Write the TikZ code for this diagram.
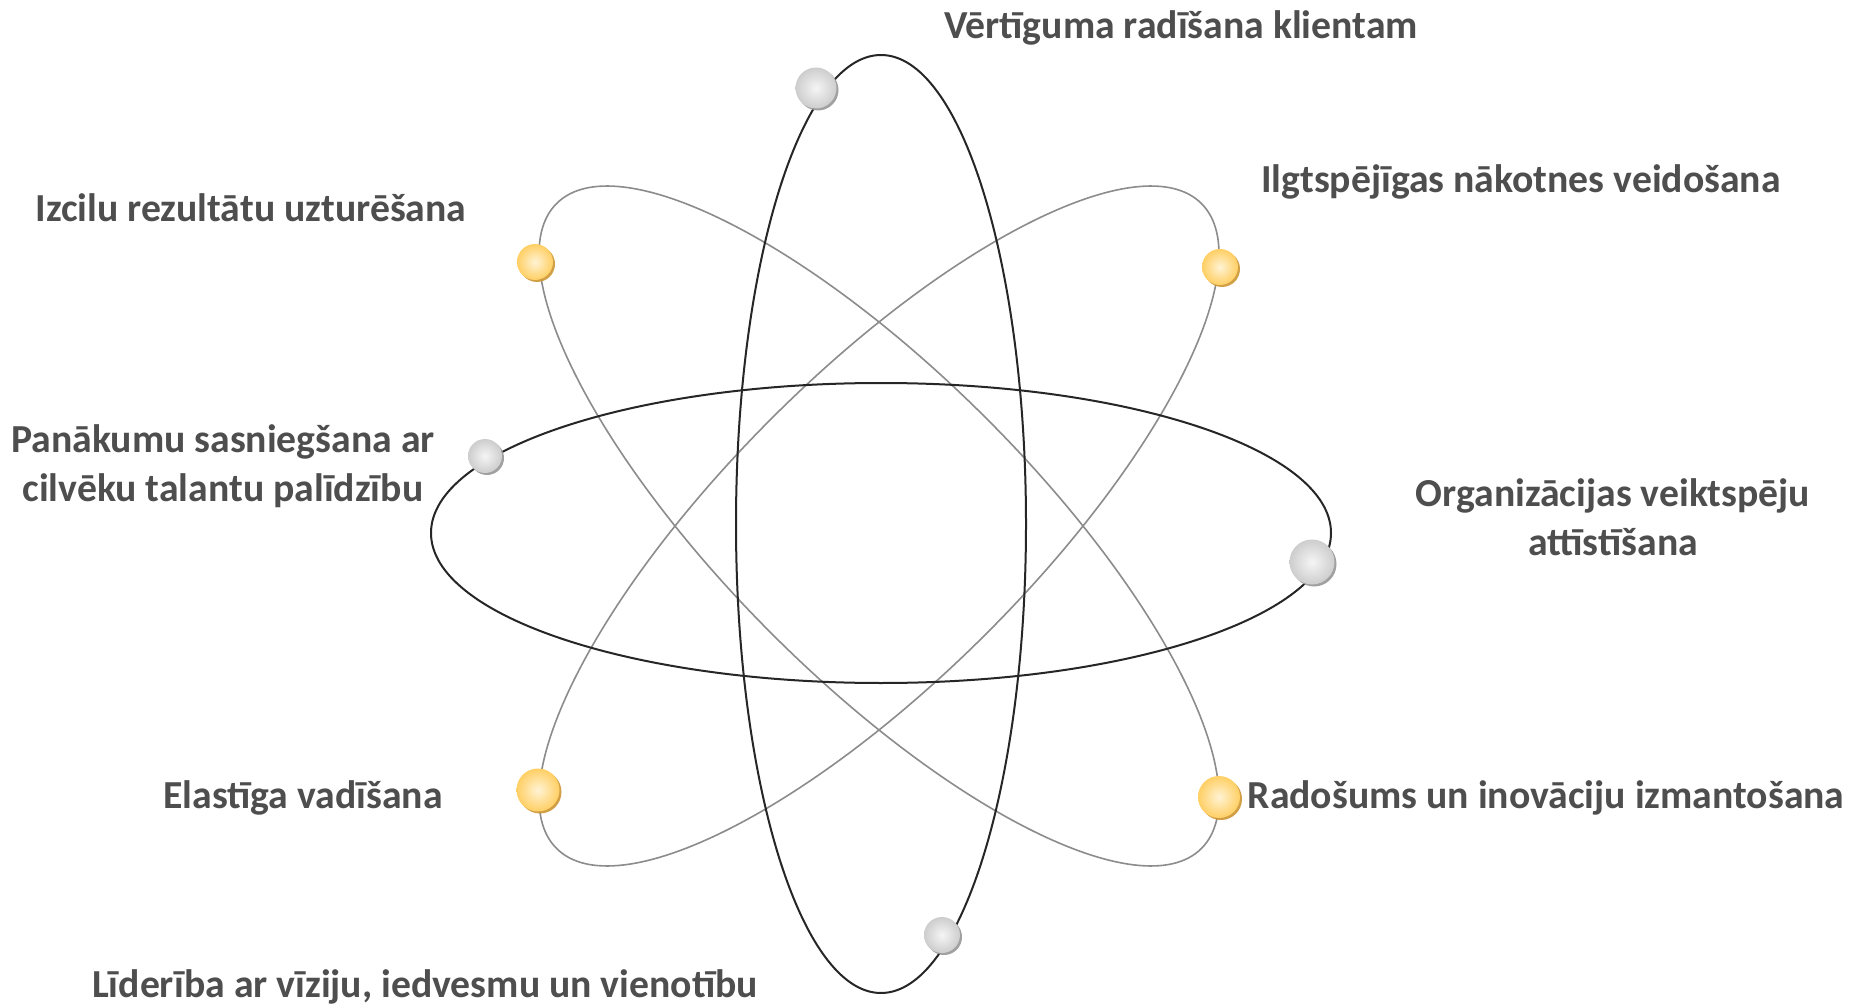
\documentclass[tikz,border=0pt]{standalone}
\usepackage{fontspec}
\setmainfont{Carlito}
\usetikzlibrary{shadows}
\definecolor{txt}{RGB}{78,78,78}
\definecolor{ylin}{RGB}{255,243,212}
\definecolor{ylout}{RGB}{255,207,100}
\definecolor{ylsh}{RGB}{205,150,50}
\definecolor{gyin}{RGB}{245,245,245}
\definecolor{gyout}{RGB}{205,205,205}
\definecolor{gysh}{RGB}{150,150,150}
\begin{document}
\begin{tikzpicture}[x=1pt,y=-1pt,
  lbl/.style={font=\bfseries\fontsize{39.7}{49}\selectfont, text=txt, align=center, inner sep=0pt},
  orbitK/.style={draw=black!85, line width=2pt},
  orbitG/.style={draw=black!45, line width=1.6pt},
  yball/.style={circle, inner sep=0pt, shading=radial, inner color=ylin, outer color=ylout,
    drop shadow={shadow xshift=2pt, shadow yshift=-2pt, fill=ylsh, opacity=0.9}},
  gball/.style={circle, inner sep=0pt, shading=radial, inner color=gyin, outer color=gyout,
    drop shadow={shadow xshift=2pt, shadow yshift=-2pt, fill=gysh, opacity=0.9}}
]
\useasboundingbox (0,0) rectangle (1858,1008);
\fill[white] (0,0) rectangle (1858,1008);

% orbits
\draw[orbitG, rotate around={-45:(879,526)}] (879,526) ellipse [x radius=456, y radius=152];
\draw[orbitG, rotate around={45:(879,526)}] (879,526) ellipse [x radius=456, y radius=152];
\draw[orbitK] (881,524) ellipse [x radius=145, y radius=469];
\draw[orbitK] (881,533) ellipse [x radius=450, y radius=150];

% balls
\node[gball, minimum size=41pt] (b1) at (816,88) {};
\node[yball, minimum size=36pt] (b2) at (535,262) {};
\node[yball, minimum size=36pt] (b3) at (1220,267) {};
\node[gball, minimum size=34pt] (b4) at (485,456) {};
\node[gball, minimum size=45pt] (b5) at (1312,562) {};
\node[yball, minimum size=43pt] (b6) at (538,790) {};
\node[yball, minimum size=42pt] (b7) at (1219,797) {};
\node[gball, minimum size=36pt] (b8) at (942,935) {};

% labels
\node[lbl] (t1) at (1181,28) {Vērtīguma radīšana klientam};
\node[lbl] (t2) at (1521,182) {Ilgtspējīgas nākotnes veidošana};
\node[lbl] (t3) at (251,208) {Izcilu rezultātu uzturēšana};
\node[lbl] (t4) at (223,466) {Panākumu sasniegšana ar\\cilvēku talantu palīdzību};
\node[lbl] (t5) at (1613,517) {Organizācijas veiktspēju\\attīstīšana};
\node[lbl] (t6) at (303,798) {Elastīga vadīšana};
\node[lbl] (t7) at (1546,798) {Radošums un inovāciju izmantošana};
\node[lbl] (t8) at (425,987) {Līderība ar vīziju, iedvesmu un vienotību};
\end{tikzpicture}
\end{document}
